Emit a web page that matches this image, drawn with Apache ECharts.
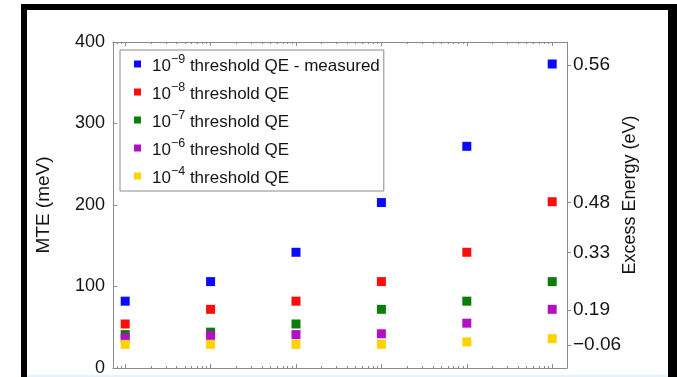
<!DOCTYPE html>
<html>
<head>
<meta charset="utf-8">
<script src="https://cdn.jsdelivr.net/npm/echarts@6/dist/echarts.min.js"></script>
<style>
  html, body { margin: 0; padding: 0; background: #ffffff; }
  #chart { width: 677px; height: 377px; }
</style>
</head>
<body>
<div id="chart"></div>
<script>
// Decade positions along the (log) horizontal axis
const xValues = [1, 10, 100, 1000, 10000, 100000];
const xMin = 0.72;
const xMax = 149000;

// MTE (meV) for each threshold quantum efficiency
const mteQE9 = [82, 106, 142, 203, 272, 373];
const mteQE8 = [54, 72, 82, 106, 142, 204];
const mteQE7 = [41, 44, 54, 72, 82, 106];
const mteQE6 = [37, 40, 41, 42, 55, 72];
const mteQE4 = [29, 29, 29, 29, 32, 36];

const seriesNames = ['QE 1e-9 measured', 'QE 1e-8', 'QE 1e-7', 'QE 1e-6', 'QE 1e-4'];
const legendExponents = ['\u22129', '\u22128', '\u22127', '\u22126', '\u22124'];
const legendSuffixes = [' threshold QE - measured', ' threshold QE', ' threshold QE', ' threshold QE', ' threshold QE'];
const seriesColors = ['#0a0aff', '#ff0d0d', '#0a7d0a', '#b50fc4', '#ffd200'];

// Left axis ticks
const mteMin = 0, mteMax = 400, mteStep = 100;

// Right axis: excess energy labels placed at MTE positions
const excessLabels = ['0.56', '0.48', '0.33', '0.19', '\u22120.06'];
const excessAtMte = [372, 203, 142, 71, 28];

const seriesData = [mteQE9, mteQE8, mteQE7, mteQE6, mteQE4];

// log-axis tick positions: decades and the 2..9 subdivisions
const majorTicks = [];
const minorTicks = [];
for (let k = -1; k <= 5; k++) {
  const d = Math.pow(10, k);
  if (d >= xMin && d <= xMax) majorTicks.push(d);
  for (let m = 2; m <= 9; m++) {
    const v = m * d;
    if (v >= xMin && v <= xMax) minorTicks.push(v);
  }
}

const FONT = 'Liberation Sans, Arial, Helvetica, sans-serif';
const AXIS_GRAY = '#8a8a8a';
const INK = '#141414';

function xAxisDef(position, ticks, len, showLine) {
  return {
    type: 'log', logBase: 10, position: position, min: xMin, max: xMax,
    axisLine: { show: showLine, lineStyle: { color: AXIS_GRAY, width: 1 } },
    axisTick: { show: true, inside: true, length: len, customValues: ticks,
                lineStyle: { color: AXIS_GRAY, width: 1 } },
    axisLabel: { show: false },
    splitLine: { show: false }
  };
}

const chart = echarts.init(document.getElementById('chart'), null, { renderer: 'canvas' });

chart.setOption({
  animation: false,
  backgroundColor: '#ffffff',
  textStyle: { fontFamily: FONT },
  grid: { left: 113, right: 110, top: 42, bottom: 9, containLabel: false },
  xAxis: [
    xAxisDef('bottom', majorTicks, 4, true),
    xAxisDef('bottom', minorTicks, 2, false),
    xAxisDef('top', majorTicks, 4, true),
    xAxisDef('top', minorTicks, 2, false)
  ],
  yAxis: [
    {
      type: 'value', position: 'left', min: mteMin, max: mteMax, interval: mteStep,
      name: 'MTE (meV)', nameLocation: 'middle', nameGap: 60, nameMoveOverlap: false,
      nameTextStyle: { fontSize: 19, color: INK, fontFamily: FONT },
      axisLine: { show: true, lineStyle: { color: AXIS_GRAY, width: 1 } },
      axisTick: { show: true, inside: true, length: 4, lineStyle: { color: AXIS_GRAY } },
      axisLabel: { fontSize: 18, color: INK, margin: 8, fontFamily: FONT },
      splitLine: { show: false }
    },
    {
      type: 'value', position: 'right', min: mteMin, max: mteMax,
      name: 'Excess Energy (eV)', nameLocation: 'middle', nameGap: 54, nameMoveOverlap: false,
      nameTextStyle: { fontSize: 18, color: INK, fontFamily: FONT, padding: [0, 0, 0, 20] },
      axisLine: { show: true, lineStyle: { color: AXIS_GRAY, width: 1 } },
      axisTick: { show: true, inside: false, length: 4, customValues: excessAtMte,
                  lineStyle: { color: AXIS_GRAY } },
      axisLabel: {
        fontSize: 19, color: INK, margin: 6, fontFamily: FONT,
        customValues: excessAtMte,
        formatter: function (v) {
          const i = excessAtMte.indexOf(v);
          return i >= 0 ? excessLabels[i] : '';
        }
      },
      splitLine: { show: false }
    }
  ],
  legend: {
    orient: 'vertical', left: 120, top: 50,
    padding: [3, 4, 4, 14],
    borderColor: '#8a8a8a', borderWidth: 1,
    backgroundColor: '#ffffff',
    icon: 'rect', itemWidth: 7, itemHeight: 7, itemGap: 6,
    data: seriesNames,
    formatter: function (name) {
      const i = seriesNames.indexOf(name);
      return '{b|10}{s|' + legendExponents[i] + '}{t|' + legendSuffixes[i] + '}';
    },
    textStyle: {
      fontFamily: FONT, color: INK, fontSize: 17,
      rich: {
        b: { fontSize: 17, lineHeight: 22, verticalAlign: 'bottom', padding: [0, 0, 0, 6], fontFamily: FONT, color: INK },
        s: { fontSize: 12.5, lineHeight: 22, verticalAlign: 'top', fontFamily: FONT, color: INK },
        t: { fontSize: 17, lineHeight: 22, verticalAlign: 'bottom', fontFamily: FONT, color: INK }
      }
    }
  },
  series: seriesNames.map(function (name, i) {
    return {
      name: name, type: 'scatter', xAxisIndex: 0, yAxisIndex: 0,
      symbol: 'rect', symbolSize: 9,
      itemStyle: { color: seriesColors[i], opacity: 1 },
      data: xValues.map(function (x, j) { return [x, seriesData[i][j]]; }),
      z: 2 + i
    };
  }),
  graphic: [
    // dark frame around the figure
    { type: 'rect', shape: { x: 21, y: 4, width: 6, height: 373 }, style: { fill: '#000000' }, z: 100 },
    { type: 'rect', shape: { x: 21, y: 4, width: 656, height: 6, r: [3, 0, 0, 0] }, style: { fill: '#000000' }, z: 100 },
    { type: 'rect', shape: { x: 668, y: 4, width: 9, height: 373 }, style: { fill: '#000000' }, z: 100 },
    // pale strip along the lower edge
    { type: 'rect', shape: { x: 27, y: 375, width: 641, height: 2 }, style: { fill: '#e2f4fa' }, z: 100 }
  ]
});
</script>
</body>
</html>
